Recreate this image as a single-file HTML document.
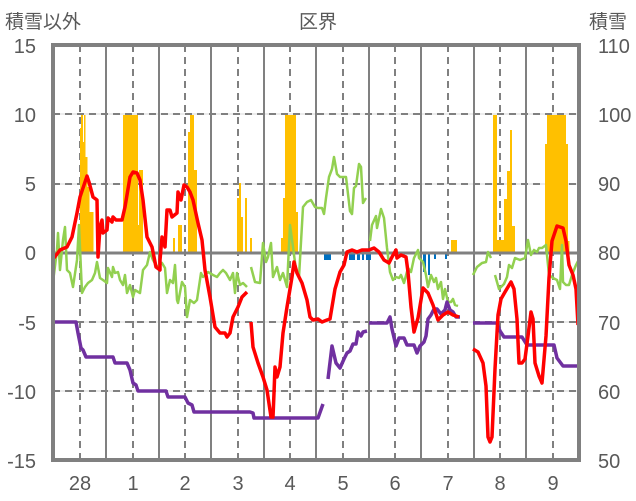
<!DOCTYPE html>
<html><head><meta charset="utf-8"><style>
html,body{margin:0;padding:0;background:#fff;}
svg{display:block;}
text{font-family:"Liberation Sans","Noto Sans CJK JP",sans-serif;fill:#595959;}
</style></head><body>
<svg width="636" height="501" viewBox="0 0 636 501">
<!-- grid -->
<g stroke="#d9d9d9" stroke-width="1">
<line x1="53" y1="114" x2="579" y2="114"/><line x1="53" y1="184" x2="579" y2="184"/>
<line x1="53" y1="322" x2="579" y2="322"/><line x1="53" y1="391" x2="579" y2="391"/>
</g>
<g stroke="#808080" stroke-width="2" stroke-dasharray="7,5">
<line x1="53" y1="114" x2="579" y2="114"/><line x1="53" y1="184" x2="579" y2="184"/>
<line x1="53" y1="322" x2="579" y2="322"/><line x1="53" y1="391" x2="579" y2="391"/>
<line x1="80" y1="45" x2="80" y2="460"/><line x1="133" y1="45" x2="133" y2="460"/>
<line x1="185" y1="45" x2="185" y2="460"/><line x1="238" y1="45" x2="238" y2="460"/>
<line x1="290" y1="45" x2="290" y2="460"/><line x1="343" y1="45" x2="343" y2="460"/>
<line x1="395" y1="45" x2="395" y2="460"/><line x1="448" y1="45" x2="448" y2="460"/>
<line x1="500" y1="45" x2="500" y2="460"/><line x1="553" y1="45" x2="553" y2="460"/>
</g>
<g stroke="#808080" stroke-width="2">
<line x1="106" y1="45" x2="106" y2="460"/><line x1="159" y1="45" x2="159" y2="460"/>
<line x1="211" y1="45" x2="211" y2="460"/><line x1="264" y1="45" x2="264" y2="460"/>
<line x1="316" y1="45" x2="316" y2="460"/><line x1="369" y1="45" x2="369" y2="460"/>
<line x1="421" y1="45" x2="421" y2="460"/><line x1="474" y1="45" x2="474" y2="460"/>
<line x1="526" y1="45" x2="526" y2="460"/>
</g>
<!-- orange bars -->
<g fill="#ffc000">
<rect x="78" y="230" width="2" height="23"/><rect x="80" y="128" width="1.5" height="125"/><rect x="81" y="115" width="2" height="138"/>
<rect x="83" y="142" width="1" height="111"/><rect x="84" y="115" width="1.5" height="138"/><rect x="85.5" y="157" width="2" height="96"/>
<rect x="87.5" y="187" width="2" height="66"/><rect x="89.5" y="212" width="4" height="41"/>
<rect x="123" y="115" width="15" height="138"/><rect x="137" y="225" width="2" height="28"/><rect x="139" y="170" width="4" height="83"/>
<rect x="173" y="238" width="2" height="15"/><rect x="178" y="225" width="4" height="28"/><rect x="188" y="132" width="2" height="121"/>
<rect x="190" y="115" width="4" height="138"/><rect x="194" y="170" width="3" height="83"/>
<rect x="237" y="198" width="2" height="55"/><rect x="239" y="183" width="2" height="70"/><rect x="241" y="217" width="2" height="36"/>
<rect x="245" y="198" width="2" height="55"/><rect x="250" y="238" width="2" height="15"/>
<rect x="281" y="238" width="2" height="15"/><rect x="283" y="198" width="2" height="55"/><rect x="285" y="115" width="11" height="138"/>
<rect x="296" y="212" width="2" height="41"/>
<rect x="451" y="240" width="6" height="13"/>
<rect x="493" y="115" width="4" height="138"/><rect x="497" y="240" width="8" height="13"/><rect x="504" y="199" width="3" height="54"/>
<rect x="507" y="171" width="3" height="82"/><rect x="510" y="130" width="2" height="123"/><rect x="512" y="226" width="3" height="27"/>
<rect x="545" y="144" width="2" height="109"/><rect x="547" y="115" width="19" height="138"/><rect x="566" y="144" width="2" height="109"/>
<rect x="568" y="241" width="1.5" height="12"/>
</g>
<g fill="#0070c0">
<rect x="324" y="253" width="7" height="7"/><rect x="349" y="253" width="6" height="7"/><rect x="357" y="253" width="3" height="7"/>
<rect x="362" y="253" width="2" height="7"/><rect x="366" y="253" width="5" height="7"/><rect x="423" y="253" width="3" height="19"/>
<rect x="428" y="253" width="2" height="22"/><rect x="434" y="253" width="2" height="6"/><rect x="445" y="253" width="2" height="6"/>
</g>
<line x1="53" y1="253" x2="579" y2="253" stroke="#808080" stroke-width="3"/>
<!-- green -->
<g fill="none" stroke="#92d050" stroke-width="2.5" stroke-linejoin="round">
<polyline points="53,282 57,250 58,233 60,270 63,240 65,227 67,270 70,273 73,287 77,260 79,225 82,293 85,287 88,283 92,280 95,273 97,262 100,278 103,280 107,283 108,268 112,277 113,267 115,273 118,272 120,280 123,285 125,275 127,293 130,285 133,297 135,290 140,293 143,270 147,265 150,252 153,260 157,267 162,263 165,268 167,293 170,280 173,283 175,265 177,300 178,303 182,282 185,287 187,317 190,300 194,303 197,300 201,273 203,277 208,272 213,275 217,277 220,273 223,270 226,273 230,280 233,273 235,293 237,273 240,285 243,283 247,287"/>
<polyline points="251,267 255,282 260,283 263,243 266,262 268,257 271,243 273,277 277,267 280,280 283,273 287,287 290,225 293,247 296,270 299,277 303,207 307,202 311,200 315,207 318,208 322,208 324,214 326,198 329,177 332,169 334,157 337,174 340,177 344,177 346,177 350,211 352,214 354,188 356,186 359,164 361,167 363,203 366,198"/>
<polyline points="370,241 372,225 376,216 377,228 381,209 384,218 387,248 390,272 393,280 396,277 399,278 401,275 404,283 408,268 411,272 414,258 418,250 419,258 423,262 426,275 428,287 431,275 434,282 436,278 438,289 441,282 443,299 445,289 448,302 451,302 453,299 455,305 458,306"/>
<polyline points="473,275 477,267 482,263 486,262 488,252 491,258"/>
<polyline points="495,275 499,289 504,284 507,277 509,265 512,268 515,258 520,260 525,258 528,240 531,255 534,250 537,252 539,248 542,248 546,245 549,275 553,278 557,280 560,289 562,245 563,282 566,285 569,285 572,275 576,265 578,261"/>
</g>
<!-- purple -->
<g fill="none" stroke="#7030a0" stroke-width="3.5" stroke-linejoin="round">
<polyline points="53,322 76,322 78,333 81,348 83,350 86,357 113,357 115,363 127,363 130,370 133,383 136,385 138,391 166,391 168,397 185,397 188,403 192,405 194,412 250,412 253,413 254,418 318,418 323,404"/>
<polyline points="328,379 332,346 336,363 340,368 344,359 347,353 350,351 353,344 356,344 358,332 361,336 363,332 367,331"/>
<polyline points="369,323 387,323 390,317 392,329 396,346 399,338 404,338 407,345 414,345 417,353 420,346 424,342 426,336 428,319 431,315 434,309 437,309 441,314 445,310 447,302 450,310 453,312 456,317 460,317"/>
<polyline points="473,323 497,323 500,331 504,337 522,337 527,345 554,345 557,358 563,366 578,366"/>
</g>
<!-- red -->
<g fill="none" stroke="#ff0000" stroke-width="3.5" stroke-linejoin="round">
<polyline points="54,258 60,250 67,247 72,237 77,213 80,197 83,188 87,176 89,182 93,197 97,200 98,257 100,227 102,220 103,233 107,230 108,218 112,222 113,217 116,220 122,220 125,207 130,177 133,172 137,173 140,180 143,200 147,237 152,247 156,267 160,270 160,260 162,237 165,247 167,210 170,210 172,217 177,213 178,192 181,200 184,185 187,187 190,192 193,200 198,223 202,240 205,270 210,297 215,327 220,333 225,333 227,337 230,333 233,317 238,307 242,297 247,292"/>
<polyline points="251,322 253,347 258,363 263,377 267,390 271,417 273,417 274,393 275,367 277,377 280,367 283,333 287,307 292,277 294,262 297,273 302,283 307,300 310,317 313,320 318,319 322,322 327,320 330,319 335,289 340,272 344,265 347,252 352,250 357,252 362,250 369,250 374,248 379,252 384,260 389,263 392,257 396,250 397,258 401,255 406,257 408,272 411,307 414,332 418,318 423,288 428,293 433,305 438,320 443,315 448,312 453,315 459,317"/>
<polyline points="473,349 478,352 483,363 486,386 488,437 490,442 492,437 495,369 498,315 501,299 505,292 511,282 514,289 517,319 519,363 522,363 525,359 528,336 531,312 533,319 535,363 539,376 542,383 546,336 549,278 552,241 557,226 563,228 566,241 569,265 573,275 576,289 578,325"/>
</g>
<!-- frame -->
<rect x="53" y="45" width="526" height="415" fill="none" stroke="#808080" stroke-width="4"/>
<!-- labels -->
<g font-size="20" text-anchor="end">
<text x="36" y="53">15</text><text x="36" y="122">10</text><text x="36" y="191">5</text>
<text x="36" y="260">0</text><text x="36" y="330">-5</text><text x="36" y="399">-10</text><text x="36" y="468">-15</text>
</g>
<g font-size="20" text-anchor="start">
<text x="598" y="53">110</text><text x="598" y="122">100</text><text x="598" y="191">90</text>
<text x="598" y="260">80</text><text x="598" y="330">70</text><text x="598" y="399">60</text><text x="598" y="468">50</text>
</g>
<g font-size="20" text-anchor="middle">
<text x="80" y="490">28</text><text x="133" y="490">1</text><text x="185" y="490">2</text><text x="238" y="490">3</text>
<text x="290" y="490">4</text><text x="343" y="490">5</text><text x="395" y="490">6</text><text x="448" y="490">7</text>
<text x="500" y="490">8</text><text x="553" y="490">9</text>
</g>
<text x="5" y="28" font-size="19">積雪以外</text>
<text x="318" y="28" font-size="19" text-anchor="middle">区界</text>
<text x="589" y="28" font-size="19">積雪</text>
</svg>
</body></html>
